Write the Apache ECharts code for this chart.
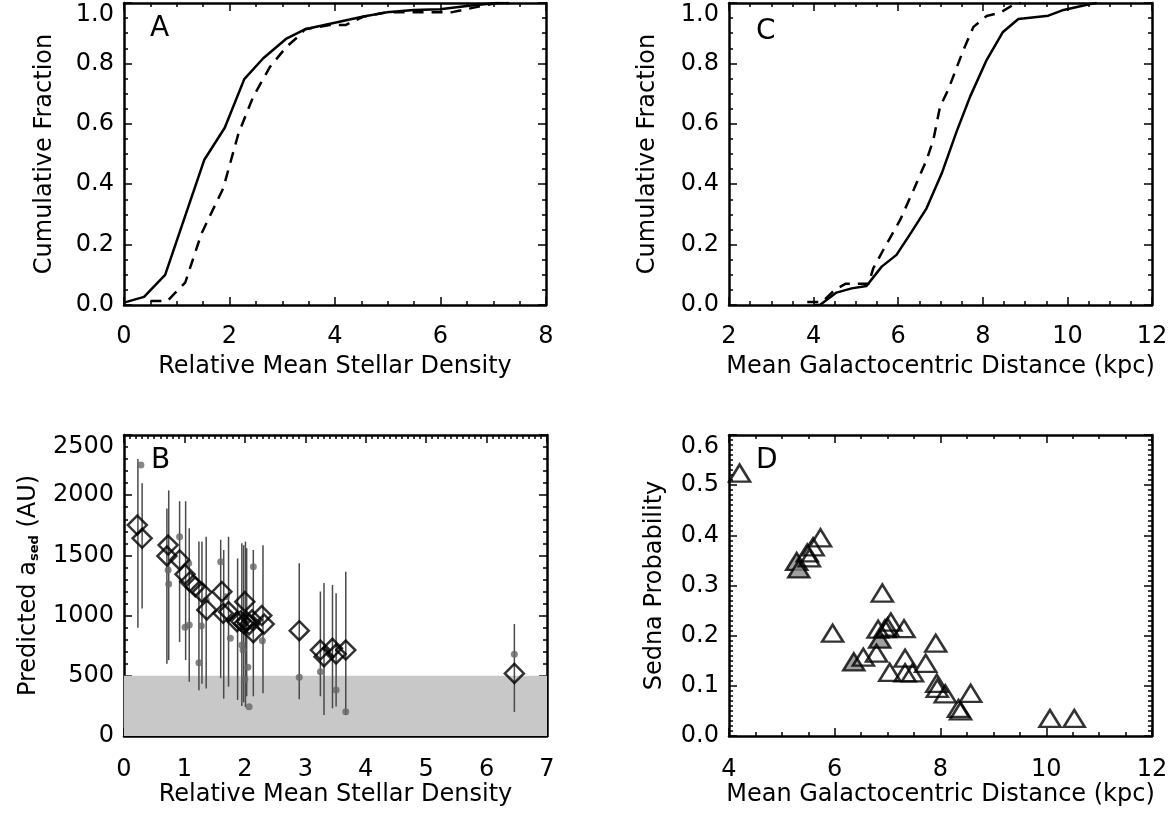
<!DOCTYPE html>
<html><head><meta charset="utf-8">
<script src="https://cdn.jsdelivr.net/npm/echarts@6/dist/echarts.min.js"></script>
<style>html,body{margin:0;padding:0;background:#fff}#c{width:1174px;height:814px}</style>
</head><body><div id="c"></div><script>
// ---------- Panel A: cumulative fraction vs relative mean stellar density ----------
const aSolidX = [0, 0.38, 0.78, 1.52, 1.91, 2.28, 2.64, 3.07, 3.43, 4.54, 4.98, 5.49, 5.99, 6.50, 7.06, 7.3];
const aSolidY = [0.008, 0.027, 0.10, 0.48, 0.587, 0.748, 0.817, 0.881, 0.913, 0.955, 0.969, 0.977, 0.979, 0.99, 1.0, 1.0];
const aDashX = [0.5, 0.82, 0.97, 1.16, 1.47, 1.88, 2.17, 2.45, 2.77, 3.08, 3.31, 3.43, 3.9, 4.2, 4.54, 4.98, 5.5, 6.2, 7.06, 7.3];
const aDashY = [0.013, 0.013, 0.04, 0.074, 0.237, 0.386, 0.568, 0.69, 0.789, 0.855, 0.89, 0.913, 0.927, 0.927, 0.955, 0.969, 0.969, 0.969, 1.0, 1.0];

// ---------- Panel C: cumulative fraction vs galactocentric distance ----------
const cSolidX = [4.0, 4.15, 4.54, 4.90, 5.25, 5.61, 5.96, 6.32, 6.67, 7.03, 7.38, 7.70, 8.09, 8.47, 8.84, 9.55, 9.91, 10.54, 10.7];
const cSolidY = [0.0, 0.0, 0.041, 0.055, 0.063, 0.127, 0.166, 0.243, 0.32, 0.436, 0.574, 0.69, 0.811, 0.903, 0.947, 0.958, 0.977, 0.997, 1.0];
const cDashX = [3.85, 4.2, 4.5, 4.75, 5.3, 5.41, 5.69, 6.04, 6.36, 6.67, 6.83, 6.99, 7.18, 7.54, 7.78, 8.09, 8.41, 8.76, 8.9];
const cDashY = [0.01, 0.01, 0.05, 0.07, 0.07, 0.121, 0.193, 0.28, 0.38, 0.48, 0.546, 0.657, 0.712, 0.844, 0.921, 0.957, 0.968, 0.997, 1.0];

// ---------- Panel B: predicted a_sed vs relative mean stellar density ----------
const bDiaX = [0.22, 0.30, 0.73, 0.71, 0.92, 1.01, 1.09, 1.18, 1.29, 1.37, 1.62, 1.64, 1.73, 1.87, 2.00, 1.93, 1.98, 2.03, 2.07, 2.12, 2.14, 2.28, 2.32, 2.90, 3.25, 3.31, 3.45, 3.51, 3.67, 6.46];
const bDiaY = [1752, 1642, 1586, 1495, 1462, 1343, 1282, 1240, 1193, 1047, 1199, 1019, 1033, 950, 1116, 955, 935, 950, 925, 965, 858, 1000, 930, 875, 714, 659, 728, 681, 714, 520];
const bDotX = [0.28, 0.73, 0.74, 0.92, 1.01, 1.08, 1.07, 1.24, 1.28, 1.36, 1.60, 1.69, 1.76, 1.95, 1.97, 2.05, 2.00, 2.07, 2.14, 2.29, 2.90, 3.25, 3.51, 3.67, 6.46];
const bDotY = [2251, 1379, 1262, 1655, 903, 922, 1434, 609, 914, 1130, 1448, 1157, 811, 756, 714, 571, 471, 243, 1406, 792, 488, 534, 382, 202, 678];
const bErrX  = [0.23, 0.30, 0.71, 0.74, 0.92, 1.02, 1.08, 1.24, 1.29, 1.36, 1.60, 1.65, 1.73, 1.88, 1.95, 1.98, 2.01, 2.03, 2.14, 2.30, 2.90, 3.25, 3.31, 3.45, 3.51, 3.67, 6.46];
const bErrLo = [900, 1060, 600, 630, 780, 630, 450, 380, 435, 395, 480, 310, 410, 300, 250, 280, 240, 330, 330, 355, 305, 330, 175, 230, 245, 175, 200];
const bErrHi = [2300, 2100, 1890, 2040, 1950, 1950, 1725, 1615, 1615, 1655, 1630, 1545, 1655, 1475, 1600, 1585, 1615, 1560, 1545, 1585, 1435, 1200, 1270, 1255, 1185, 1365, 930];
const bShade = [0, 500];

// ---------- Panel D: Sedna probability vs galactocentric distance ----------
const dX = [4.20, 5.48, 5.52, 5.59, 5.73, 5.96, 6.54, 6.79, 6.82, 6.90, 6.95, 7.00, 7.06, 7.04, 7.31, 7.33, 7.33, 7.47, 7.72, 7.91, 7.93, 7.94, 8.09, 8.34, 8.38, 8.57, 10.07, 10.53];
const dY = [0.524, 0.365, 0.355, 0.377, 0.395, 0.205, 0.157, 0.165, 0.213, 0.285, 0.214, 0.217, 0.227, 0.127, 0.214, 0.155, 0.126, 0.126, 0.145, 0.185, 0.105, 0.095, 0.084, 0.055, 0.05, 0.085, 0.035, 0.035];
const dGX = [5.28, 5.32, 6.36, 6.85];
const dGY = [0.348, 0.333, 0.148, 0.193];

const zip = (xs, ys) => xs.map((x, i) => [x, ys[i]]);
const FONT = 'DejaVu Sans';
const TXT = { color: '#000', fontFamily: FONT, fontSize: 24 };
const AXL = { onZero: false, lineStyle: { color: '#000', width: 2.5 } };

function xAxes(g, min, max, interval, minorN, name, margin, nameGap) {
  const base = {
    type: 'value', gridIndex: g, min, max, interval,
    axisLine: AXL,
    axisTick: { inside: true, length: 8, lineStyle: { color: '#000', width: 1.5 } },
    minorTick: { show: true, splitNumber: minorN, length: 4, lineStyle: { color: '#000', width: 1.5 } },
    splitLine: { show: false }, minorSplitLine: { show: false }
  };
  return [
    Object.assign({}, base, { position: 'bottom', axisLabel: Object.assign({}, TXT, { margin }),
      name, nameLocation: 'middle', nameGap, nameTextStyle: Object.assign({}, TXT) }),
    Object.assign({}, base, { position: 'top', axisLabel: { show: false } })
  ];
}
function yAxes(g, min, max, interval, minorN, name, nameGap, nameRich, fmt, minAlign) {
  const base = {
    type: 'value', gridIndex: g, min, max, interval,
    axisLine: AXL,
    axisTick: { inside: true, length: 8, lineStyle: { color: '#000', width: 1.5 } },
    minorTick: { show: true, splitNumber: minorN, length: 4, lineStyle: { color: '#000', width: 1.5 } },
    splitLine: { show: false }, minorSplitLine: { show: false }
  };
  const ts = Object.assign({}, TXT);
  if (nameRich) ts.rich = nameRich;
  return [
    Object.assign({}, base, { position: 'left',
      axisLabel: Object.assign({}, TXT, { margin: 10, formatter: fmt, verticalAlignMaxLabel: 'top', verticalAlignMinLabel: minAlign }),
      name, nameLocation: 'middle', nameGap, nameTextStyle: ts }),
    Object.assign({}, base, { position: 'right', axisLabel: { show: false } })
  ];
}
const f1 = v => v.toFixed(1);
const f0 = v => String(Math.round(v));

const grids = [
  { left: 124, top: 3, width: 422, height: 302 },   // A
  { left: 729, top: 3, width: 423, height: 302 },   // C
  { left: 124, top: 435, width: 423, height: 301 }, // B
  { left: 729, top: 435, width: 423, height: 301 }  // D
];

const xAxis = [].concat(
  xAxes(0, 0, 8, 2, 4, 'Relative Mean Stellar Density', 20, 50),
  xAxes(1, 2, 12, 2, 4, 'Mean Galactocentric Distance (kpc)', 20, 50),
  xAxes(2, 0, 7, 1, 10, 'Relative Mean Stellar Density', 22, 41),
  xAxes(3, 4, 12, 2, 4, 'Mean Galactocentric Distance (kpc)', 22, 41)
);
const yAxis = [].concat(
  yAxes(0, 0, 1, 0.2, 4, 'Cumulative Fraction', 67, null, f1, 'middle'),
  yAxes(1, 0, 1, 0.2, 4, 'Cumulative Fraction', 69, null, f1, 'middle'),
  yAxes(2, 0, 2500, 500, 5, 'Predicted a{s|sed} (AU)', 83,
        { s: { fontSize: 13, fontWeight: 'bold', fontFamily: FONT, color: '#000', verticalAlign: 'bottom' } }, f0, 'middle'),
  yAxes(3, 0, 0.6, 0.1, 10, 'Sedna Probability', 62, null, f1, 'middle')
);

const lineStyleSolid = { color: '#000', width: 2.5 };
const lineStyleDash = { color: '#000', width: 2.5, type: [11, 8] };

const series = [
  { type: 'line', xAxisIndex: 0, yAxisIndex: 0, data: zip(aSolidX, aSolidY), symbol: 'none', lineStyle: lineStyleSolid, z: 5 },
  { type: 'line', xAxisIndex: 0, yAxisIndex: 0, data: zip(aDashX, aDashY), symbol: 'none', lineStyle: lineStyleDash, z: 5 },
  { type: 'line', xAxisIndex: 2, yAxisIndex: 2, data: zip(cSolidX, cSolidY), symbol: 'none', lineStyle: lineStyleSolid, z: 5 },
  { type: 'line', xAxisIndex: 2, yAxisIndex: 2, data: zip(cDashX, cDashY), symbol: 'none', lineStyle: lineStyleDash, z: 5 },
  // B shaded band
  { type: 'line', xAxisIndex: 4, yAxisIndex: 4, data: [], z: 1, silent: true,
    markArea: { silent: true, itemStyle: { color: '#c8c8c8' },
      data: [[{ yAxis: bShade[0] }, { yAxis: bShade[1] }]] } },
  // B error bars
  { type: 'custom', xAxisIndex: 4, yAxisIndex: 4, z: 3,
    data: bErrX.map((x, i) => [x, bErrLo[i], bErrHi[i]]),
    renderItem: (params, api) => {
      const p1 = api.coord([api.value(0), api.value(1)]);
      const p2 = api.coord([api.value(0), api.value(2)]);
      return { type: 'line', shape: { x1: p1[0], y1: p1[1], x2: p2[0], y2: p2[1] },
               style: { stroke: '#4a4a4a', lineWidth: 1.5 } };
    } },
  { type: 'scatter', xAxisIndex: 4, yAxisIndex: 4, z: 4, data: zip(bDotX, bDotY),
    symbol: 'circle', symbolSize: 7, itemStyle: { color: '#666' } },
  { type: 'scatter', xAxisIndex: 4, yAxisIndex: 4, z: 6, data: zip(bDiaX, bDiaY),
    symbol: 'diamond', symbolSize: [19, 19],
    itemStyle: { color: 'rgba(0,0,0,0)', borderColor: '#000', borderWidth: 2.5 } },
  // D
  { type: 'scatter', xAxisIndex: 6, yAxisIndex: 6, z: 5, data: zip(dGX, dGY),
    symbol: 'triangle', symbolSize: [21, 17],
    itemStyle: { color: '#888', borderColor: '#000', borderWidth: 2.5 } },
  { type: 'scatter', xAxisIndex: 6, yAxisIndex: 6, z: 6, data: zip(dX, dY),
    symbol: 'triangle', symbolSize: [21, 17],
    itemStyle: { color: 'rgba(0,0,0,0)', borderColor: '#000', borderWidth: 2.5 } }
];

const letter = (t, x, y) => ({ type: 'text', left: x, top: y,
  style: { text: t, fill: '#000', font: '28px "' + FONT + '"' }, z: 20 });

const chart = echarts.init(document.getElementById('c'), null, { renderer: 'canvas' });
chart.setOption({
  animation: false,
  backgroundColor: '#fff',
  grid: grids,
  xAxis, yAxis, series,
  graphic: [letter('A', 150, 15), letter('C', 756, 18), letter('B', 151, 447), letter('D', 756, 447)]
});
</script></body></html>
